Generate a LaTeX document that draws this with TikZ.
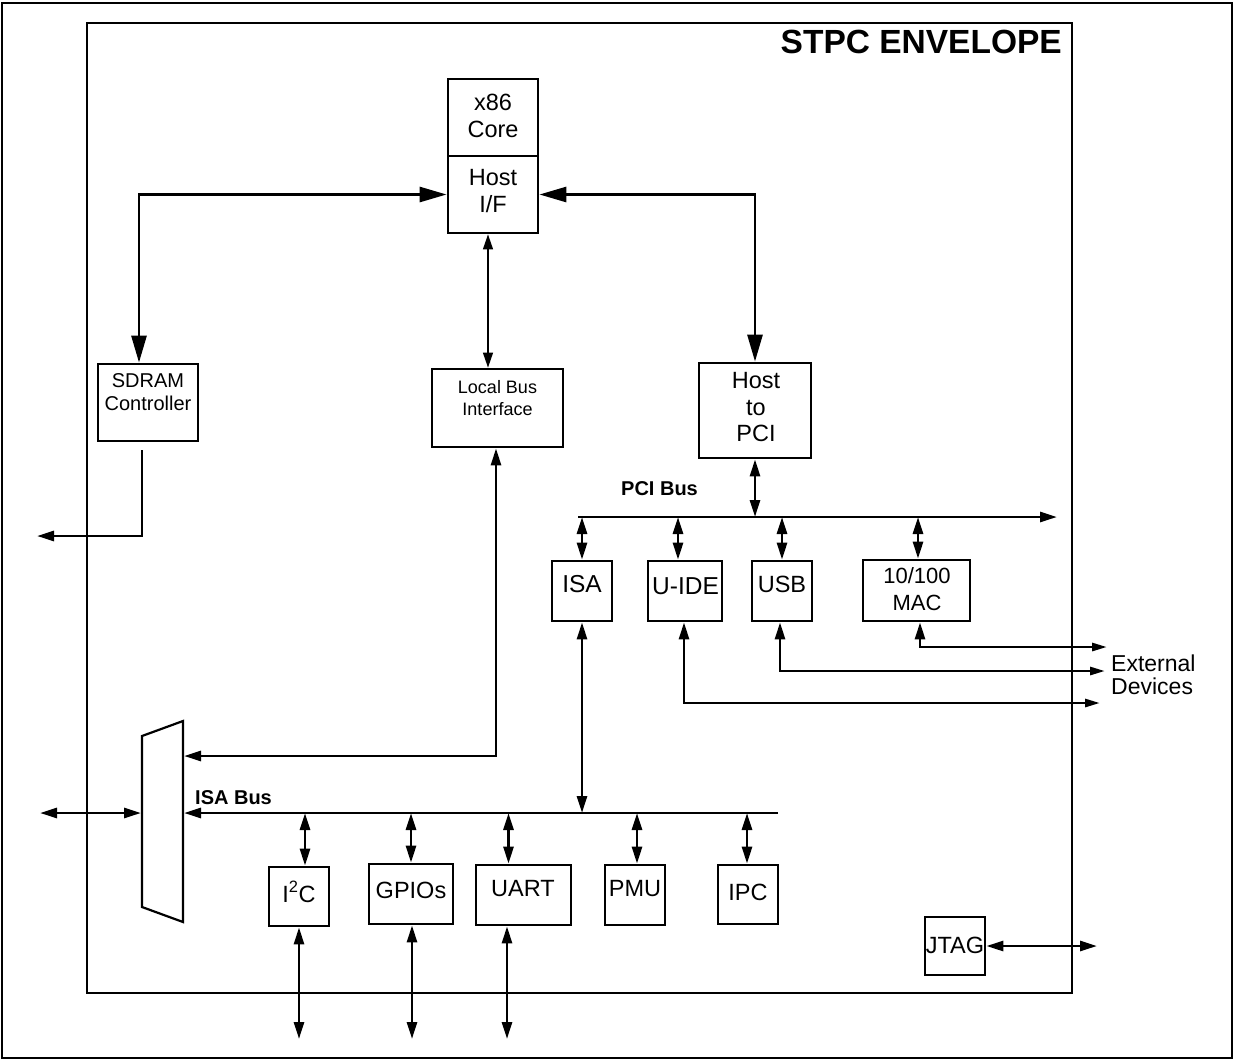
\documentclass[tikz,border=0pt]{standalone}
\usepackage{fontspec}
\setmainfont{Liberation Sans}
\usetikzlibrary{arrows.meta}
\tikzset{
  blk/.style={draw, line width=2.8pt, inner sep=0pt},
  txt/.style={inner sep=0pt, align=center, font=\fontsize{23.5}{26.5}\selectfont},
  wire/.style={line width=2.8pt},
  dbl/.style={wire, {Triangle[length=17pt,width=10pt]}-{Triangle[length=17pt,width=10pt]}},
  bigdbl/.style={wire, {Triangle[length=27pt,width=15pt]}-{Triangle[length=27pt,width=15pt]}},
  one/.style={wire, -{Triangle[length=17pt,width=10pt]}},
  extw/.style={wire, {Triangle[length=17pt,width=10pt]}-{Triangle[length=15pt,width=8pt]}},
  lbwire/.style={line width=1.3pt, {Triangle[length=15pt,width=10pt]}-{Triangle[length=15pt,width=10pt]}},
  bold/.style={inner sep=0pt, font=\fontsize{20}{22}\selectfont\bfseries}
}
\begin{document}
\begin{tikzpicture}[x=1pt,y=-1pt]
\useasboundingbox (0,0) rectangle (1237,1061);
% frames
\draw[line width=2.8pt] (2,3) rectangle (1232,1058);
\draw[line width=2.8pt] (87,23) rectangle (1072,993);
\node[anchor=base east, inner sep=0pt, font=\fontsize{33.5}{36}\selectfont\bfseries] (title) at (1062,53) {STPC ENVELOPE};

% blocks
\node[blk, minimum width=90pt, minimum height=77pt] (x86) at (493,117.5) {};
\node[blk, minimum width=90pt, minimum height=77pt] (hostif) at (493,194.5) {};
\node[blk, minimum width=100pt, minimum height=77pt] (sdram) at (148,402.5) {};
\node[blk, minimum width=131pt, minimum height=78pt] (localbus) at (497.5,408) {};
\node[blk, minimum width=112pt, minimum height=95pt] (hostpci) at (755,410.5) {};
\node[blk, minimum width=60pt, minimum height=60pt] (isa) at (582,591) {};
\node[blk, minimum width=74pt, minimum height=60pt] (uide) at (685,591) {};
\node[blk, minimum width=60pt, minimum height=60pt] (usb) at (782,591) {};
\node[blk, minimum width=107pt, minimum height=61pt] (mac) at (916.5,590.5) {};
\node[blk, minimum width=60pt, minimum height=59pt] (i2c) at (299,896.5) {};
\node[blk, minimum width=84pt, minimum height=60pt] (gpios) at (411,894) {};
\node[blk, minimum width=95pt, minimum height=60pt] (uart) at (523.5,895) {};
\node[blk, minimum width=60pt, minimum height=60pt] (pmu) at (635,895) {};
\node[blk, minimum width=60pt, minimum height=59pt] (ipc) at (748,894.5) {};
\node[blk, minimum width=60pt, minimum height=58pt] (jtag) at (955,946) {};

% texts
\node[txt, anchor=north] (tx86) at (493,94) {x86\\Core};
\node[txt, anchor=north] (thostif) at (493,169.5) {Host\\I/F};
\node[txt, anchor=north, font=\fontsize{20}{23.5}\selectfont] (tsdram) at (148,373) {SDRAM\\Controller};
\node[txt, anchor=north, font=\fontsize{18}{21.7}\selectfont] (tlb) at (497.5,380.5) {Local Bus\\Interface};
\node[txt, anchor=north] (thp) at (756,372.5) {Host\\to\\PCI};
\node[txt, anchor=base, font=\fontsize{24.5}{27}\selectfont] (tisa) at (582,592) {ISA};
\node[txt, anchor=base, font=\fontsize{24.5}{27}\selectfont] (tuide) at (685.5,594) {U-IDE};
\node[txt, anchor=base] (tusb) at (782,592) {USB};
\node[txt, anchor=north, font=\fontsize{22}{27}\selectfont] (tmac) at (917,567.5) {10/100\\MAC};
\node[txt, anchor=base] (ti2c) at (299,902) {I\textsuperscript{2}C};
\node[txt, anchor=base] (tgpio) at (411,898) {GPIOs};
\node[txt, anchor=base] (tuart) at (523,896) {UART};
\node[txt, anchor=base] (tpmu) at (635,896) {PMU};
\node[txt, anchor=base] (tipc) at (748,900.5) {IPC};
\node[txt, anchor=base] (tjtag) at (955,953) {JTAG};
\node[txt, anchor=north west, align=left, font=\fontsize{23}{23}\selectfont] (textdev) at (1111,655) {External\\Devices};
\node[bold, anchor=base west] (tpci) at (621,495.7) {PCI Bus};
\node[bold, anchor=base west] (tisabus) at (195,804.3) {ISA Bus};

% mux
\coordinate (mA) at (142,736);
\coordinate (mB) at (183,721);
\coordinate (mC) at (183,922);
\coordinate (mD) at (142,907);
\draw[line width=2.2pt, line join=miter] (mA) -- (mB) -- (mC) -- (mD) -- cycle;
\coordinate (lbin) at (184,756);
\coordinate (isain) at (184,813);
\coordinate (muxL) at (141,813);
\coordinate (extL) at (40,813);

% coordinates for bus ends and free ends
\coordinate (pciL) at (578,517);
\coordinate (pciR) at (1057,517);
\coordinate (isaR) at (778,813);
\coordinate (sdext) at (37,536);
\coordinate (ext1) at (1107,647);
\coordinate (ext2) at (1105,671);
\coordinate (ext3) at (1100,703);
\coordinate (bot) at (0,1039);
\coordinate (jext) at (1097,946);

% host connections
\draw[bigdbl] ([xshift=-9pt]sdram.north) |- (hostif.west);
\draw[bigdbl] (hostif.east) -| (hostpci.north);
\draw[lbwire] ([xshift=-5pt]hostif.south) -- ([xshift=-5pt]hostif.south |- localbus.north);
\draw[one] ([xshift=-6pt,yshift=-8pt]sdram.south) |- (sdext);
\draw[dbl] ([xshift=-1.5pt]localbus.south) |- (lbin);

% PCI bus
\draw[one] (pciL) -- (pciR);
\draw[dbl] (hostpci.south) -- (hostpci.south |- pciL);
\draw[dbl] (isa.north |- pciL) -- (isa.north);
\draw[dbl] ([xshift=-7pt]uide.north |- pciL) -- ([xshift=-7pt]uide.north);
\draw[dbl] (usb.north |- pciL) -- (usb.north);
\draw[dbl] ([xshift=1.5pt]mac.north |- pciL) -- ([xshift=1.5pt]mac.north);

% external devices
\draw[extw] ([xshift=3.5pt]mac.south) |- (ext1);
\draw[extw] ([xshift=-2pt]usb.south) |- (ext2);
\draw[extw] ([xshift=-1pt]uide.south) |- (ext3);

% ISA bus
\draw[one] (isaR) -- (isain);
\draw[dbl] (extL) -- (muxL);
\draw[dbl] (isa.south) -- (isa.south |- isaR);
\draw[dbl] ([xshift=6pt]i2c.north |- isaR) -- ([xshift=6pt]i2c.north);
\draw[dbl] (gpios.north |- isaR) -- (gpios.north);
\draw[dbl] ([xshift=-15pt]uart.north |- isaR) -- ([xshift=-15pt]uart.north);
\draw[dbl] ([xshift=2pt]pmu.north |- isaR) -- ([xshift=2pt]pmu.north);
\draw[dbl] ([xshift=-1pt]ipc.north |- isaR) -- ([xshift=-1pt]ipc.north);

% down to outside
\draw[dbl] (i2c.south) -- (i2c.south |- bot);
\draw[dbl] ([xshift=1pt]gpios.south) -- ([xshift=1pt]gpios.south |- bot);
\draw[dbl] ([xshift=-16.5pt]uart.south) -- ([xshift=-16.5pt]uart.south |- bot);

% JTAG
\draw[dbl] (jtag.east) -- (jext);
\end{tikzpicture}
\end{document}
